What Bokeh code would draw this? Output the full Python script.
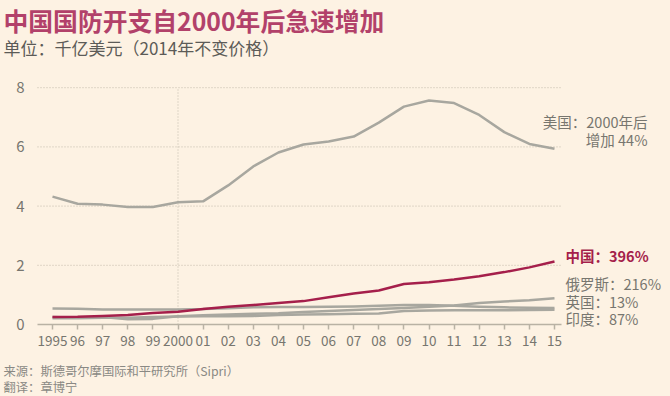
from bokeh.plotting import figure
from bokeh.models import Label, FixedTicker, Range1d
from bokeh.embed import file_html
from bokeh.resources import INLINE

# ---- data (千亿美元, 2014 constant prices) ----
years = list(range(1995, 2016))
tick_labels = ["1995", "96", "97", "98", "99", "2000", "01", "02", "03", "04",
               "05", "06", "07", "08", "09", "10", "11", "12", "13", "14", "15"]
usa = [4.32, 4.08, 4.05, 3.97, 3.97, 4.13, 4.16, 4.70, 5.34, 5.81, 6.08,
       6.18, 6.35, 6.82, 7.36, 7.57, 7.48, 7.08, 6.50, 6.10, 5.94]
china = [0.25, 0.26, 0.29, 0.32, 0.39, 0.43, 0.52, 0.60, 0.66, 0.73, 0.79,
         0.92, 1.05, 1.15, 1.37, 1.43, 1.52, 1.63, 1.77, 1.93, 2.13]
russia = [0.25, 0.23, 0.25, 0.18, 0.19, 0.28, 0.31, 0.34, 0.36, 0.38, 0.42,
          0.46, 0.49, 0.52, 0.56, 0.60, 0.64, 0.73, 0.78, 0.82, 0.89]
uk = [0.54, 0.53, 0.51, 0.51, 0.51, 0.51, 0.52, 0.55, 0.58, 0.59, 0.59,
      0.60, 0.61, 0.63, 0.66, 0.66, 0.63, 0.60, 0.58, 0.57, 0.56]
india = [0.21, 0.21, 0.23, 0.23, 0.25, 0.27, 0.28, 0.28, 0.29, 0.32, 0.34,
         0.35, 0.36, 0.37, 0.46, 0.47, 0.48, 0.48, 0.48, 0.49, 0.50]
y_ticks = [0, 2, 4, 6, 8]
marker_year = 2000

title_text = "中国国防开支自2000年后急速增加"
subtitle_text = "单位：千亿美元（2014年不变价格）"
source_text = "来源：斯德哥尔摩国际和平研究所（Sipri）"
translator_text = "翻译：章博宁"

BG = "#fdf2e3"
RED = "#a51f4b"
GRAY = "#a8a79f"
TXT = "#77766f"
GRID = "#c2baab"
FONT = "Noto Sans CJK SC"

W, H = 670, 396
# pixel layout of the plotting area inside the canvas
PX_LEFT, PX_RIGHT = 37, 561          # extent of axis / grid lines
PX_X0, PX_PER_YEAR = 52, 25.1        # x pixel of first year, pixels per year
PX_Y0, PX_PER_UNIT = 324, 29.6       # y pixel of value 0, pixels per unit

x_start = years[0] - PX_X0 / PX_PER_YEAR
x_end = x_start + W / PX_PER_YEAR
y_start = -(H - PX_Y0) / PX_PER_UNIT
y_end = PX_Y0 / PX_PER_UNIT
x_lo = years[0] - (PX_X0 - PX_LEFT) / PX_PER_YEAR
x_hi = years[0] + (PX_RIGHT - PX_X0) / PX_PER_YEAR

p = figure(width=W, height=H, output_backend="svg", toolbar_location=None,
           x_range=Range1d(x_start, x_end), y_range=Range1d(y_start, y_end),
           min_border=0)
p.background_fill_color = BG
p.border_fill_color = BG
p.outline_line_color = None
p.xgrid.grid_line_color = None
p.ygrid.grid_line_color = None

# axes (fixed inside the canvas)
p.xaxis.fixed_location = 0
p.xaxis.bounds = (x_lo, x_hi)
p.xaxis.ticker = FixedTicker(ticks=years)
p.xaxis.major_label_overrides = {y: l for y, l in zip(years, tick_labels)}
p.xaxis.axis_line_color = "#b9b2a4"
p.xaxis.axis_line_width = 1.5
p.xaxis.major_tick_line_color = "#b9b2a4"
p.xaxis.major_tick_line_width = 1.5
p.xaxis.major_tick_in = 0
p.xaxis.major_tick_out = 5
p.xaxis.minor_tick_line_color = None
p.xaxis.major_label_standoff = 6
p.xaxis.major_label_text_font = FONT
p.xaxis.major_label_text_font_size = "13.5px"
p.xaxis.major_label_text_color = TXT

p.yaxis.fixed_location = x_lo
p.yaxis.ticker = FixedTicker(ticks=y_ticks)
p.yaxis.axis_line_color = None
p.yaxis.major_tick_line_color = None
p.yaxis.minor_tick_line_color = None
p.yaxis.major_tick_in = 0
p.yaxis.major_tick_out = 0
p.yaxis.major_label_standoff = 13
p.yaxis.major_label_text_font = FONT
p.yaxis.major_label_text_font_size = "15px"
p.yaxis.major_label_text_color = TXT

# dotted horizontal grid lines and 2000 marker
grid_y = [t for t in y_ticks if t > 0]
p.segment(x0=[x_lo] * len(grid_y), x1=[x_hi] * len(grid_y), y0=grid_y, y1=grid_y,
          line_color=GRID, line_dash="1 2", line_width=1)
p.segment(x0=[marker_year], x1=[marker_year], y0=[y_ticks[0]], y1=[y_ticks[-1]],
          line_color=GRID, line_dash="1 2", line_width=1)

# lines
for series in (uk, india, russia, usa):
    p.line(years, series, line_color=GRAY, line_width=2.5, line_join="round")
p.line(years, china, line_color=RED, line_width=2.5, line_join="round")


def add_label(text, X, Y, size, color, style="normal", align="left"):
    p.add_layout(Label(x=X, y=H - Y, x_units="screen", y_units="screen",
                       text=text, text_font=FONT, text_font_size=size,
                       text_color=color, text_font_style=style,
                       text_align=align, text_baseline="middle"))


# titles
add_label(title_text, 3, 19, "24.8px", "#b2416a", "bold")
add_label(subtitle_text, 3, 47, "17px", "#5c5b57")

# series annotations
add_label("美国：2000年后", 647, 121, "14.5px", TXT, align="right")
add_label("增加 44%", 647, 139, "14.5px", TXT, align="right")
add_label("中国：396%", 565, 255, "14.5px", RED, "bold")
add_label("俄罗斯：216%", 565, 283, "14.5px", TXT)
add_label("英国：13%", 565, 301, "14.5px", TXT)
add_label("印度：87%", 565, 318, "14.5px", TXT)

# footer
add_label(source_text, 3, 370, "12.3px", "#8a8984")
add_label(translator_text, 3, 386, "12.3px", "#8a8984")

html = file_html(p, INLINE, title="中国国防开支")
html = html.replace("<head>", "<head><style>html,body{background:%s;}</style>" % BG, 1)
open("out.html", "w").write(html)
